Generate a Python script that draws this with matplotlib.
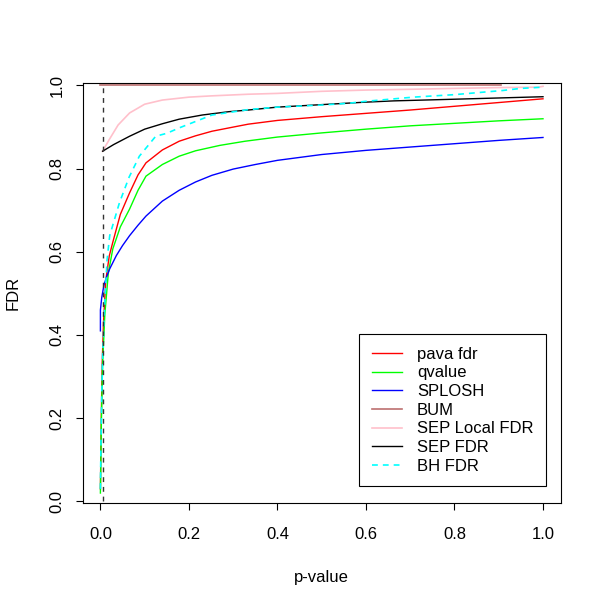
import matplotlib
matplotlib.use("Agg")
import matplotlib.pyplot as plt

plt.rcParams['font.family'] = ['Liberation Sans', 'DejaVu Sans']

# p-value / FDR curves
pava_x = [0.0, 0.002, 0.004, 0.007, 0.012, 0.02, 0.028, 0.045, 0.066, 0.085, 0.103, 0.14, 0.178,
          0.215, 0.252, 0.3, 0.334, 0.40, 0.5, 0.6, 0.7, 0.8, 0.9, 1.0]
pava_y = [0.03, 0.2, 0.33, 0.43, 0.53, 0.59, 0.623, 0.69, 0.742, 0.785, 0.814, 0.845, 0.866,
          0.879, 0.89, 0.9, 0.907, 0.916, 0.925, 0.933, 0.941, 0.950, 0.959, 0.968]

qval_x = [0.0, 0.002, 0.005, 0.01, 0.018, 0.028, 0.045, 0.066, 0.085, 0.103, 0.14, 0.178, 0.215,
          0.27, 0.327, 0.40, 0.5, 0.6, 0.7, 0.8, 0.9, 1.0]
qval_y = [0.02, 0.18, 0.33, 0.45, 0.55, 0.607, 0.66, 0.703, 0.748, 0.782, 0.81, 0.83, 0.843,
          0.856, 0.866, 0.876, 0.886, 0.895, 0.903, 0.909, 0.915, 0.92]

splosh_x = [0.0, 0.0, 0.003, 0.008, 0.014, 0.021, 0.036, 0.05, 0.066, 0.085, 0.103, 0.14, 0.178,
            0.215, 0.252, 0.3, 0.35, 0.40, 0.5, 0.6, 0.7, 0.8, 0.9, 1.0]
splosh_y = [0.41, 0.46, 0.49, 0.52, 0.54, 0.559, 0.591, 0.615, 0.639, 0.664, 0.686, 0.722, 0.748,
            0.768, 0.784, 0.799, 0.81, 0.82, 0.834, 0.844, 0.852, 0.86, 0.868, 0.875]

bum_x = [0.0, 0.905]
bum_y = [1.0, 1.0]

seplocal_x = [0.005, 0.02, 0.04, 0.066, 0.1, 0.14, 0.2, 0.25, 0.334, 0.40, 0.5, 0.6, 0.707,
              0.8, 0.9, 0.99, 1.0]
seplocal_y = [0.842, 0.87, 0.905, 0.934, 0.955, 0.965, 0.972, 0.975, 0.979, 0.981, 0.986, 0.989,
              0.991, 0.993, 0.995, 0.996, 0.998]

sep_x = [0.005, 0.03, 0.066, 0.1, 0.14, 0.178, 0.23, 0.29, 0.334, 0.40, 0.5, 0.6, 0.663, 0.8,
         0.9, 1.0]
sep_y = [0.842, 0.858, 0.878, 0.895, 0.908, 0.919, 0.929, 0.937, 0.941, 0.948, 0.954, 0.960,
         0.963, 0.967, 0.970, 0.973]

bh_x = [0.0, 0.002, 0.005, 0.01, 0.015, 0.021, 0.043, 0.065, 0.088, 0.125, 0.15, 0.178, 0.252,
        0.334, 0.40, 0.5, 0.558, 0.6, 0.707, 0.8, 0.909, 0.95, 1.0]
bh_y = [0.03, 0.2, 0.35, 0.48, 0.58, 0.639, 0.718, 0.78, 0.83, 0.878, 0.885, 0.898, 0.929,
        0.942, 0.948, 0.953, 0.957, 0.962, 0.972, 0.978, 0.988, 0.993, 0.996]

cutoff = 0.005
ticks = [0.0, 0.2, 0.4, 0.6, 0.8, 1.0]
tick_labels = ['0.0', '0.2', '0.4', '0.6', '0.8', '1.0']

fig = plt.figure(figsize=(6, 6), dpi=100)
ax = fig.add_axes([82.7/600, 97/600, 478/600, 420/600])

ax.plot(pava_x, pava_y, color='#FF0000', lw=1, label='pava fdr')
ax.plot(qval_x, qval_y, color='#00FF00', lw=1, label='qvalue')
ax.plot(splosh_x, splosh_y, color='#0000FF', lw=1, label='SPLOSH')
ax.plot(bum_x, bum_y, color='#BC7070', lw=1.2, label='BUM')
ax.plot(seplocal_x, seplocal_y, color='#FFC0CB', lw=1.2, label='SEP Local FDR')
ax.plot(sep_x, sep_y, color='black', lw=1, label='SEP FDR')
ax.plot(bh_x, bh_y, color='#00FFFF', lw=1.2, ls=(0, (3.5, 3)), label='BH FDR')
ax.plot([cutoff, cutoff], [0, 1], color='#333333', lw=1, ls=(0, (3.5, 3.5)))

ax.set_xlim(-0.04, 1.04)
ax.set_ylim(-0.004, 1.006)
ax.set_xticks(ticks)
ax.set_xticklabels(tick_labels)
ax.set_yticks(ticks)
ax.set_yticklabels(tick_labels, rotation=90, va='center')
ax.tick_params(direction='out', length=5, width=0.8, pad=8, labelsize=12)
ax.tick_params(axis='x', pad=12)
for s in ax.spines.values():
    s.set_linewidth(0.8)

ax.set_xlabel('p-value', fontsize=12)
ax.set_ylabel('FDR', fontsize=12)
ax.xaxis.set_label_coords(0.5, -0.16)
ax.yaxis.set_label_coords(-0.13, 0.5)

leg = ax.legend(loc='lower right', bbox_to_anchor=(0.969, 0.04), fontsize=12, frameon=True,
                fancybox=False, edgecolor='black', framealpha=1, labelspacing=0.22,
                handlelength=1.8, handletextpad=0.9, borderpad=0.75, borderaxespad=0)
leg.get_frame().set_linewidth(0.8)

fig.savefig('out.png', dpi=100)
